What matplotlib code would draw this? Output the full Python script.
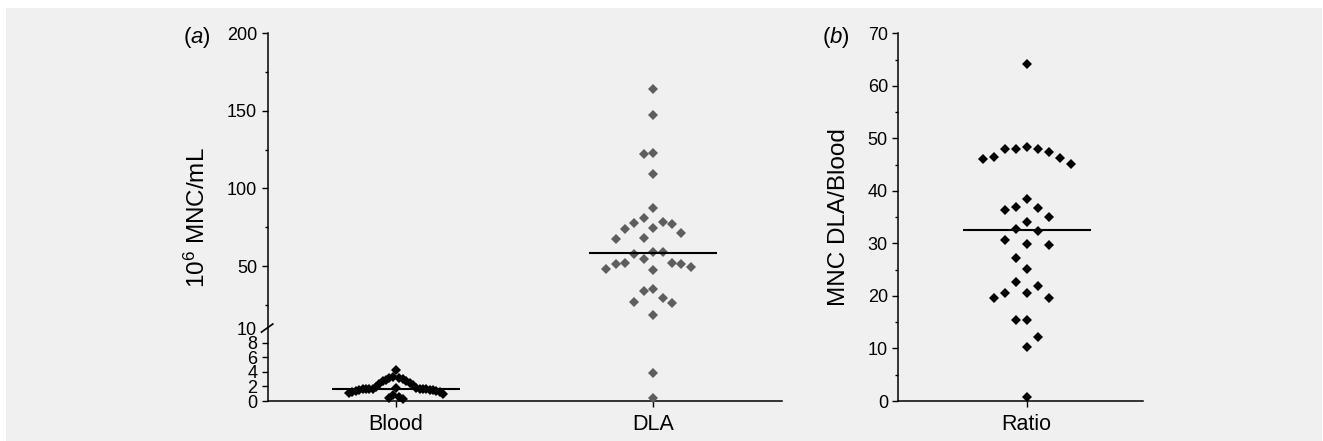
import numpy as np
import matplotlib

matplotlib.use('Agg')
from matplotlib import pyplot as plt
from matplotlib.patches import Rectangle

plt.rcParams['font.family'] = ['Liberation Sans', 'DejaVu Sans']
plt.rcParams['mathtext.fontset'] = 'custom'
plt.rcParams['mathtext.rm'] = 'Liberation Sans'
plt.rcParams['mathtext.it'] = 'Liberation Sans:italic'

# values (10^6 MNC/mL and DLA/Blood ratio)
blood = [4.3, 3.3, 3.2, 3.1, 3.0, 2.9, 2.8, 2.7, 2.4, 2.3, 2.2, 1.9, 1.8,
         1.6, 1.7, 1.7, 1.7, 1.6, 1.6, 1.6, 1.5, 1.5, 1.5, 1.4, 1.4, 1.3,
         1.2, 1.1, 1.0, 0.8, 0.6, 0.4, 0.3, 1.8]
dla = [163.9, 147.2, 122.1, 122.9, 109.2, 87.1, 81.0, 78.0, 74.2, 73.6,
       76.8, 78.5, 71.0, 67.3, 67.8, 59.1, 57.5, 58.8, 47.4, 47.8, 51.7,
       51.7, 49.1, 54.2, 51.0, 51.0, 34.0, 35.3, 29.1, 26.9, 26.3, 18.6,
       3.9, 0.37]
ratio = [64.1, 46.4, 47.9, 48.0, 46.1, 48.4, 47.9, 47.4, 45.2, 46.3, 36.4,
         38.5, 36.7, 36.9, 35.1, 32.7, 32.4, 34.0, 29.7, 30.7, 29.8, 25.1,
         27.3, 21.8, 20.5, 19.7, 20.6, 19.7, 22.7, 15.4, 15.4, 12.1, 10.3,
         0.8]
groups_a = ['Blood', 'DLA']
groups_b = ['Ratio']

K = 0.2127  # compression of the upper (10-200) part of the broken axis


def fwd(y):
    y = np.asarray(y, dtype=float)
    return np.where(y <= 10, y, 10 + (y - 10) * K)


def inv(t):
    t = np.asarray(t, dtype=float)
    return np.where(t <= 10, t, 10 + (t - 10) / K)


def swarm(ax, center, vals, bx=11.0, by=18.0, max_px=47.0):
    # column scatter: spread points that collide (box test, pixel space),
    # then squeeze the whole column into a fixed width
    vals = np.asarray(vals, dtype=float)
    pix = ax.transData.transform(np.column_stack([np.full(len(vals), center), vals]))
    ys = pix[:, 1]
    px_per_unit = ax.transData.transform((1, 0))[0] - ax.transData.transform((0, 0))[0]
    step = bx / 2
    placed = []
    offs = np.zeros(len(vals))
    for i in np.argsort(-vals):
        k = 0
        found = None
        while found is None:
            for sgn in ([1] if k == 0 else [-1, 1]):
                dx = sgn * k * step
                if all(abs(dx - px) >= bx or abs(ys[i] - py) >= by for px, py in placed):
                    found = dx
                    break
            k += 1
        placed.append((found, ys[i]))
        offs[i] = found
    m = np.abs(offs).max()
    if m > max_px:
        offs = offs * max_px / m
    return center + offs / px_per_unit


def style(ax):
    for s in ['top', 'right']:
        ax.spines[s].set_visible(False)
    for s in ['left', 'bottom']:
        ax.spines[s].set_linewidth(1.1)
    ax.patch.set_alpha(0)
    ax.tick_params(axis='both', which='major', direction='out', length=4.5, width=1.0,
                   labelsize=13, pad=3)
    ax.tick_params(axis='y', which='minor', direction='out', length=2.5, width=1.0)
    ax.tick_params(axis='x', labelsize=15.5, pad=5)


fig = plt.figure(figsize=(13.23, 4.41), dpi=100)
fig.patch.set_facecolor('white')
fig.patches.append(Rectangle((6 / 1323, 0), 1316 / 1323, 433 / 441, transform=fig.transFigure,
                             facecolor='#f0f0f0', edgecolor='none', zorder=-10))

# panel (a)
ax1 = fig.add_axes([0.2023, 0.0907, 0.3885, 0.8338])
ax1.set_yscale('function', functions=(fwd, inv))
ax1.set_ylim(0, 200)
ax1.set_xlim(0.5, 2.5)
style(ax1)
ax1.set_yticks([0, 2, 4, 6, 8, 10, 50, 100, 150, 200])
ax1.set_yticks([25, 75, 125, 175], minor=True)
ax1.yaxis.get_major_ticks()[5].tick1line.set_visible(False)
ax1.set_xticks([1, 2])
ax1.set_xticklabels(groups_a)
ax1.set_ylabel('10$^6$ MNC/mL', fontsize=17.5, labelpad=12)

for pos, vals, col in [(1, blood, 'black'), (2, dla, '#5e5e5e')]:
    xs = swarm(ax1, pos, vals)
    ax1.plot(xs, vals, 'D', ms=4.8, mew=0, color=col, clip_on=False, zorder=3)
    ax1.hlines(np.median(vals), pos - 0.25, pos + 0.25, color='black', lw=1.5, zorder=4)

# break mark on the y axis
ax1.plot([0.5 - 0.024, 0.5 + 0.02], [9.45, 12.6], color='black', lw=1.2, clip_on=False, zorder=5)

# panel (b)
ax2 = fig.add_axes([0.679, 0.0907, 0.1852, 0.8338])
ax2.set_ylim(0, 70)
ax2.set_xlim(0.5, 1.454)
style(ax2)
ax2.set_yticks(np.arange(0, 71, 10))
ax2.set_yticks(np.arange(5, 70, 10), minor=True)
ax2.set_xticks([1])
ax2.set_xticklabels(groups_b)
ax2.set_ylabel('MNC DLA/Blood', fontsize=17.5, labelpad=13)
xs = swarm(ax2, 1, ratio)
ax2.plot(xs, ratio, 'D', ms=4.8, mew=0, color='black', clip_on=False, zorder=3)
ax2.hlines(np.median(ratio), 0.75, 1.25, color='black', lw=1.5, zorder=4)

fig.text(183 / 1323, 1 - 37 / 441, '($\\it{a}$)', fontsize=16, va='center', ha='left')
fig.text(822 / 1323, 1 - 38 / 441, '($\\it{b}$)', fontsize=16, va='center', ha='left')

fig.savefig('out.png', dpi=100, facecolor=fig.get_facecolor())
